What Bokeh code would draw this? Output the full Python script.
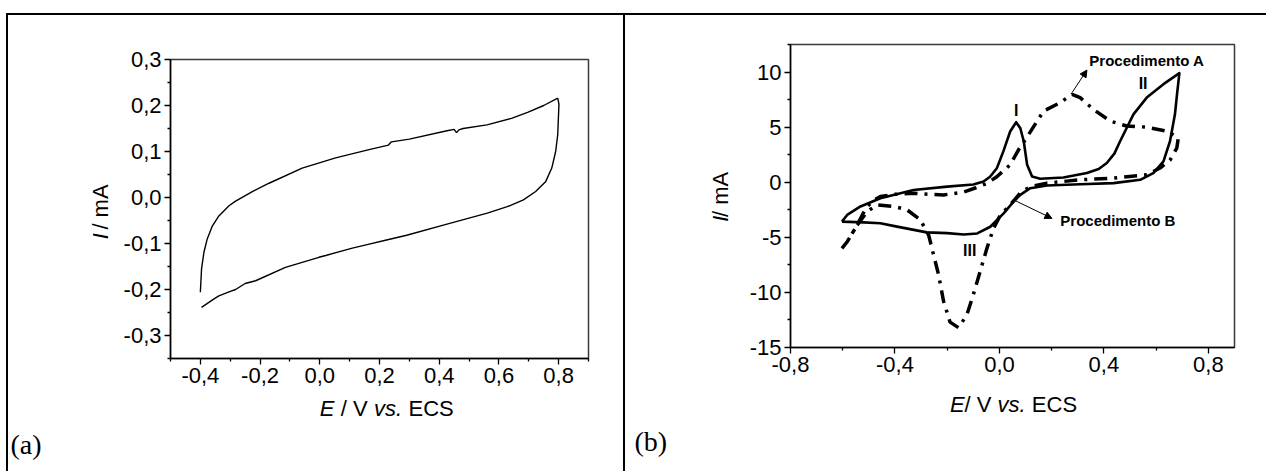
from bokeh.plotting import figure
from bokeh.models import Range1d, FixedTicker, CustomJSTickFormatter, Label, Arrow, NormalHead, Spacer
from bokeh.layouts import row, column
from bokeh.embed import file_html
from bokeh.resources import INLINE

# ---------------- data: panel (a) ----------------
a_up_x = [-0.400, -0.396, -0.388, -0.377, -0.360, -0.338, -0.304, -0.282, -0.226, -0.170, -0.059,
          0.053, 0.165, 0.230, 0.240, 0.300, 0.426, 0.450, 0.458, 0.466, 0.480, 0.560, 0.642, 0.696, 0.750, 0.797]
a_up_y = [-0.206, -0.155, -0.119, -0.090, -0.062, -0.040, -0.018, -0.008, 0.013, 0.031, 0.064,
          0.086, 0.104, 0.114, 0.121, 0.127, 0.145, 0.148, 0.141, 0.147, 0.150, 0.158, 0.172, 0.185, 0.200, 0.216]
a_dn_x = [0.797, 0.801, 0.797, 0.790, 0.777, 0.757, 0.723, 0.682, 0.628, 0.561, 0.426, 0.291,
          0.220, 0.155, 0.109, 0.020, -0.003, -0.115, -0.215, -0.250, -0.282, -0.304, -0.338, -0.358, -0.396]
a_dn_y = [0.216, 0.203, 0.137, 0.100, 0.064, 0.035, 0.013, -0.005, -0.020, -0.034, -0.058, -0.082,
          -0.093, -0.103, -0.110, -0.126, -0.130, -0.152, -0.181, -0.187, -0.200, -0.205, -0.214, -0.222, -0.239]

a_xticks = [-0.4, -0.2, 0.0, 0.2, 0.4, 0.6, 0.8]
a_xminor = [-0.5, -0.3, -0.1, 0.1, 0.3, 0.5, 0.7, 0.9]
a_yticks = [-0.3, -0.2, -0.1, 0.0, 0.1, 0.2, 0.3]
a_yminor = [-0.35, -0.25, -0.15, -0.05, 0.05, 0.15, 0.25]

# ---------------- data: panel (b) ----------------
# Procedimento B (solid)
b_x = [-0.603, -0.583, -0.532, -0.456, -0.329, -0.200, -0.100, -0.061, -0.036, -0.010, 0.015, 0.041,
       0.064, 0.080, 0.093, 0.106, 0.125, 0.156, 0.245, 0.335, 0.380, 0.411, 0.440, 0.462, 0.513, 0.564,
       0.628, 0.689, 0.680, 0.672, 0.653, 0.628, 0.589, 0.539, 0.437, 0.309, 0.182, 0.118, 0.080, 0.054,
       0.016, -0.035, -0.085, -0.137, -0.200, -0.278, -0.392, -0.456, -0.520, -0.603]
b_y = [-3.58, -2.97, -2.20, -1.45, -0.70, -0.40, -0.20, 0.06, 0.50, 1.27, 2.80, 4.60,
       5.45, 4.90, 3.72, 1.59, 0.52, 0.31, 0.43, 0.83, 1.20, 1.74, 2.60, 3.72, 6.16, 7.68,
       8.90, 9.90, 8.00, 6.16, 3.72, 1.90, 0.83, 0.22, -0.08, -0.18, -0.30, -0.54, -1.15, -1.76,
       -2.82, -4.04, -4.65, -4.75, -4.62, -4.55, -4.03, -3.73, -3.64, -3.58]
# Procedimento A (dash-dot)
pa_x = [-0.603, -0.583, -0.545, -0.510, -0.480, -0.456, -0.400, -0.329, -0.270, -0.214, -0.138, -0.090,
        -0.048, -0.010, 0.041, 0.073, 0.111, 0.169, 0.233, 0.278, 0.309, 0.360, 0.424, 0.487, 0.564,
        0.641, 0.685, 0.679, 0.653, 0.615, 0.564, 0.437, 0.309, 0.182, 0.118, 0.079, 0.041, 0.003,
        -0.023, -0.048, -0.074, -0.100, -0.125, -0.157, -0.189, -0.214, -0.233, -0.252, -0.271, -0.303,
        -0.354, -0.405, -0.469, -0.507, -0.545, -0.583, -0.603]
pa_y = [-6.00, -5.40, -3.90, -2.30, -1.60, -1.30, -1.10, -1.00, -1.10, -1.15, -0.90, -0.50,
        -0.10, 0.50, 1.58, 2.94, 4.30, 6.46, 7.22, 7.98, 7.68, 6.60, 5.55, 5.10, 5.00,
        4.63, 4.02, 3.10, 2.00, 1.29, 0.68, 0.37, 0.22, -0.08, -0.39, -1.00, -2.06, -3.00,
        -4.20, -6.00, -8.10, -10.20, -12.06, -13.20, -12.70, -10.80, -8.40, -6.60, -4.80, -3.40,
        -2.50, -2.20, -2.06, -2.67, -3.90, -5.40, -6.00]

b_xticks = [-0.8, -0.4, 0.0, 0.4, 0.8]
b_xminor = [-0.6, -0.2, 0.2, 0.6]
b_yticks = [-15, -10, -5, 0, 5, 10]
b_yminor = [-12.5, -7.5, -2.5, 2.5, 7.5, 12.5]

SANS = "Liberation Sans"
SERIF = "Liberation Serif"
TICK_FS = "22px"
LAB_F = 22.0
LAB_FS = "22px"
BORDER = "2px solid black"
SP = 0.278  # width of a space / slash in em (Liberation Sans)


def comma_fmt(decimals):
    return CustomJSTickFormatter(code="return tick.toFixed(%d).replace('.', ',');" % decimals)


def style_axes(p):
    for ax in (p.xaxis[0], p.yaxis[0]):
        ax.axis_line_color = "black"
        ax.axis_line_width = 1.5
        ax.major_tick_line_color = "black"
        ax.minor_tick_line_color = "black"
        ax.major_tick_line_width = 1.3
        ax.minor_tick_line_width = 1.3
        ax.major_tick_in = 0
        ax.major_tick_out = 6
        ax.minor_tick_in = 0
        ax.minor_tick_out = 3
        ax.major_label_text_font = SANS
        ax.major_label_text_font_size = TICK_FS
        ax.major_label_text_color = "black"
        ax.major_label_standoff = 3
    p.xgrid.visible = False
    p.ygrid.visible = False
    p.outline_line_color = "#3a3a3a"
    p.outline_line_width = 1.5


def border_styles(sides):
    st = {"box-sizing": "border-box"}
    for s in sides:
        st["border-" + s] = BORDER
    return st


def strip(w, h, left, top, sides):
    """A text-only figure whose data coordinates equal page pixel coordinates."""
    bl = 2 if "left" in sides else 0
    br = 2 if "right" in sides else 0
    bt = 2 if "top" in sides else 0
    cl, cr = left + bl, left + w - br
    ct, cb = top + bt, top + h
    p = figure(width=w, height=h, output_backend="svg", toolbar_location=None,
               x_range=Range1d(cl, cr), y_range=Range1d(cb, ct),
               x_axis_location=None, y_axis_location=None, min_border=0,
               background_fill_color="white", border_fill_color="white",
               outline_line_color=None, styles=border_styles(sides))
    p.xgrid.visible = False
    p.ygrid.visible = False
    return p


def lbl(p, x, y, text, style="normal", size=LAB_FS, font=SANS, angle=0.0, align="left"):
    p.add_layout(Label(x=x, y=y, text=text, text_font=font, text_font_size=size,
                       text_font_style=style, text_align=align, text_baseline="middle",
                       angle=angle, text_color="black"))


f = LAB_F

# ---------------- panel (a) ----------------
ylab_a = strip(114, 379, 6, 13, ["top", "left"])
ys = 213 + 0.5 * 2.612 * f
lbl(ylab_a, 98, ys, "I", "italic", angle=1.5708)
lbl(ylab_a, 98, ys - 2 * SP * f, "/ mA", angle=1.5708)

main_a = figure(width=505, height=379, output_backend="svg", toolbar_location=None,
                x_range=Range1d(-0.5, 0.9), y_range=Range1d(-0.35, 0.3),
                min_border_left=48, min_border_right=37, min_border_top=44, min_border_bottom=36,
                background_fill_color="white", border_fill_color="white",
                styles=border_styles(["top", "right"]))
main_a.xaxis.ticker = FixedTicker(ticks=a_xticks, minor_ticks=a_xminor)
main_a.yaxis.ticker = FixedTicker(ticks=a_yticks, minor_ticks=a_yminor)
main_a.xaxis.formatter = comma_fmt(1)
main_a.yaxis.formatter = comma_fmt(1)
style_axes(main_a)
main_a.line(a_up_x, a_up_y, line_color="black", line_width=1.4)
main_a.line(a_dn_x, a_dn_y, line_color="black", line_width=1.4)

bot_a = strip(619, 79, 6, 392, ["left", "right"])
xs = 384 - 0.5 * 6.058 * f
lbl(bot_a, xs, 408, "E", "italic")
lbl(bot_a, xs + (0.667 + SP) * f, 408, "/ V")
lbl(bot_a, xs + (0.667 + 1.779) * f, 408, "vs.", "italic")
lbl(bot_a, xs + (0.667 + 1.779 + 1.278 + SP) * f, 408, "ECS")
lbl(bot_a, 10, 444, "(a)", size="28px", font=SERIF)

panel_a = column(row(ylab_a, main_a), bot_a)

# ---------------- panel (b) ----------------
ylab_b = strip(115, 379, 625, 13, ["top"])
ys = 210 + 0.5 * 2.334 * f
lbl(ylab_b, 720, ys, "I", "italic", angle=1.5708)
lbl(ylab_b, 720, ys - SP * f, "/ mA", angle=1.5708)

main_b = figure(width=526, height=379, output_backend="svg", toolbar_location=None,
                x_range=Range1d(-0.8, 0.9), y_range=Range1d(-15, 12.5),
                min_border_left=50, min_border_right=32, min_border_top=29, min_border_bottom=47,
                background_fill_color="white", border_fill_color="white",
                styles=border_styles(["top"]))
main_b.xaxis.ticker = FixedTicker(ticks=b_xticks, minor_ticks=b_xminor)
main_b.yaxis.ticker = FixedTicker(ticks=b_yticks, minor_ticks=b_yminor)
main_b.xaxis.formatter = comma_fmt(1)
main_b.yaxis.formatter = comma_fmt(0)
style_axes(main_b)
main_b.line(pa_x, pa_y, line_color="black", line_width=3.5, line_dash="13 7 3 7")
main_b.line(b_x, b_y, line_color="black", line_width=2.6, line_join="round")

main_b.add_layout(Arrow(x_start=0.278, y_start=8.13, x_end=0.335, y_end=10.18, line_width=1,
                        end=NormalHead(size=7, fill_color="black", line_color="black")))
main_b.add_layout(Arrow(x_start=0.054, y_start=-1.6, x_end=0.201, y_end=-3.28, line_width=1,
                        end=NormalHead(size=7, fill_color="black", line_color="black")))

for tx, ty, tt, al in [(0.344, 11.03, "Procedimento A", "left"), (0.233, -3.49, "Procedimento B", "left"),
                       (0.064, 6.55, "I", "center"), (0.55, 8.97, "II", "center"),
                       (-0.114, -6.23, "III", "center")]:
    main_b.add_layout(Label(x=tx, y=ty, text=tt, text_font=SANS,
                            text_font_size="15px" if len(tt) > 3 else "16px", text_color="black",
                            text_font_style="bold", text_align=al, text_baseline="middle"))

bot_b = strip(641, 79, 625, 392, [])
xs = 1013 - 0.5 * 5.78 * f
lbl(bot_b, xs, 404, "E", "italic")
lbl(bot_b, xs + 0.667 * f, 404, "/ V")
lbl(bot_b, xs + (0.667 + 1.501) * f, 404, "vs.", "italic")
lbl(bot_b, xs + (0.667 + 1.501 + 1.278 + SP) * f, 404, "ECS")
lbl(bot_b, 634, 441, "(b)", size="28px", font=SERIF)

panel_b = column(row(ylab_b, main_b), bot_b)

layout = column(Spacer(height=13), row(Spacer(width=6), panel_a, panel_b))
open("out.html", "w").write(file_html(layout, INLINE))
